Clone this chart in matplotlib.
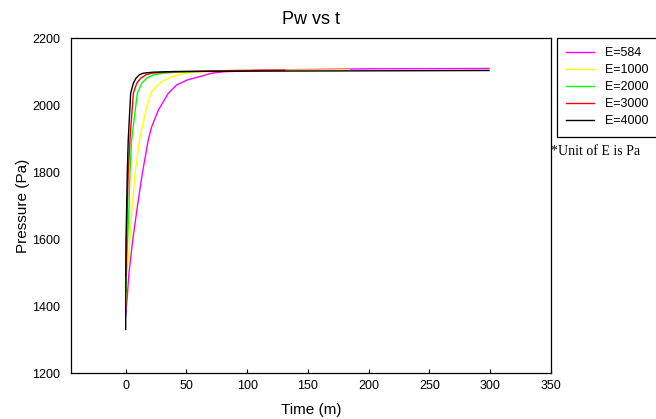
import numpy as np
import matplotlib
matplotlib.use('Agg')
import matplotlib.pyplot as plt

# series (time in m, pressure in Pa)
t_584 = [0, 1.3, 2.7, 5.8, 9.6, 13.7, 18.6, 21.4, 26.9, 35.1, 42, 50.8, 61.2, 70.9, 80, 110, 150, 200, 299]
p_584 = [1370, 1428, 1498, 1597, 1696, 1796, 1896, 1935, 1985, 2035, 2060, 2075, 2085, 2095, 2099, 2104, 2106, 2108, 2109]

t_1000 = [0, 1, 3.5, 5.4, 7.7, 11.4, 17.3, 21.4, 29, 37.2, 46.8, 55, 75, 130, 184]
p_1000 = [1395, 1500, 1597, 1696, 1796, 1896, 1995, 2040, 2068, 2083, 2093, 2098, 2101, 2104, 2105]

t_2000 = [0, 0.8, 1.6, 2.7, 3.5, 4.9, 9.6, 13.2, 17.3, 22.7, 31, 42, 70, 100]
p_2000 = [1440, 1520, 1597, 1696, 1796, 1896, 2035, 2065, 2080, 2090, 2095, 2098, 2101, 2103]

t_3000 = [0, 0.8, 1.3, 2.1, 3.5, 6.3, 9.1, 12.4, 16.7, 21.4, 31, 50, 90, 131]
p_3000 = [1490, 1597, 1696, 1796, 1896, 2035, 2065, 2080, 2090, 2095, 2098, 2100, 2103, 2104]

t_4000 = [0, 0.25, 0.8, 1.3, 2.1, 4.1, 6.3, 8.5, 11.2, 14.5, 22.7, 40, 100, 200, 299]
p_4000 = [1330, 1597, 1696, 1796, 1896, 2035, 2065, 2080, 2090, 2095, 2098, 2100, 2101, 2102, 2103]

labels = ['E=584', 'E=1000', 'E=2000', 'E=3000', 'E=4000']
colors = ['#ff00ff', '#ffff00', '#00ff00', '#ff0000', '#000000']
xticks = [0, 50, 100, 150, 200, 250, 300, 350]
yticks = [1200, 1400, 1600, 1800, 2000, 2200]

plt.rcParams['font.family'] = ['Liberation Sans', 'DejaVu Sans']

fig = plt.figure(figsize=(6.56, 4.19), dpi=100)
ax = fig.add_axes([71 / 656, 46 / 419, 480 / 656, 335 / 419])

series = [(t_584, p_584), (t_1000, p_1000), (t_2000, p_2000), (t_3000, p_3000), (t_4000, p_4000)]
for (t, p), lab, c in zip(series, labels, colors):
    ax.plot(t, p, color=c, linewidth=1.0, label=lab)

ax.set_xlim(-45, 350)
ax.set_ylim(1200, 2200)
ax.set_xticks(xticks)
ax.set_yticks(yticks)
ax.tick_params(axis='x', direction='in', length=3, width=0.8, pad=5, labelsize=9)
ax.tick_params(axis='y', length=0, pad=8, labelsize=9)
for s in ax.spines.values():
    s.set_linewidth(0.9)

ax.set_title('Pw vs t', fontsize=13, pad=10)
ax.set_xlabel('Time (m)', fontsize=11, labelpad=8)
ax.set_ylabel('Pressure (Pa)', fontsize=11, labelpad=1)

leg = ax.legend(loc='upper left', bbox_to_anchor=(557 / 656, 381 / 419), bbox_transform=fig.transFigure,
                borderaxespad=0, fancybox=False, framealpha=1, edgecolor='black', fontsize=9,
                handlelength=2.2, handletextpad=0.85, labelspacing=0.4, borderpad=0.75)
leg.get_frame().set_linewidth(0.9)

fig.text(551 / 656, (419 - 151) / 419, '*Unit of E is Pa', fontsize=10, va='center', ha='left',
         family=['Liberation Serif', 'DejaVu Serif'])

fig.savefig('out.png', dpi=100)
